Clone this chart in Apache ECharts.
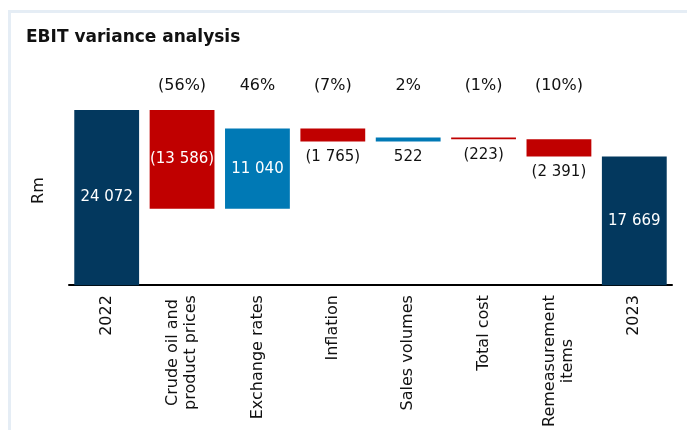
<!DOCTYPE html>
<html>
<head>
<meta charset="utf-8">
<script src="https://cdn.jsdelivr.net/npm/echarts@6/dist/echarts.min.js"></script>
<style>
  html, body { margin: 0; padding: 0; background: #fff; }
  #wrap { position: relative; width: 687px; height: 430px; overflow: hidden; }
  #panel { position: absolute; left: 8px; top: 10px; right: 0; bottom: 0;
           border-top: 3px solid #e5edf5; border-left: 3px solid #e5edf5; }
  #chart { position: absolute; left: 0; top: 0; width: 687px; height: 430px; }
</style>
</head>
<body>
<div id="wrap"><div id="panel"></div><div id="chart"></div></div>
<script>
const categories = ['2022', 'Crude oil and\nproduct prices', 'Exchange rates', 'Inflation',
                    'Sales volumes', 'Total cost', 'Remeasurement\nitems', '2023'];
const values = [24072, -13586, 11040, -1765, 522, -223, -2391, 17669];
const isTotal = [true, false, false, false, false, false, false, true];
const pctLabels = ['', '(56%)', '46%', '(7%)', '2%', '(1%)', '(10%)', ''];

const NAVY = '#03385e', RED = '#c00000', BLUE = '#0079b5';
const FONT = 'DejaVu Sans';

function fmt(v) {
  const s = Math.abs(v).toString().replace(/\B(?=(\d{3})+(?!\d))/g, ' ');
  return v < 0 ? '(' + s + ')' : s;
}

// running sums for waterfall
const baseData = [], barData = [];
let running = 0;
values.forEach((v, i) => {
  let base, h;
  if (isTotal[i]) { base = 0; h = v; running = v; }
  else if (v >= 0) { base = running; h = v; running += v; }
  else { running += v; base = running; h = -v; }
  baseData.push(base);
  const inside = Math.abs(v) > 5000;
  barData.push({
    value: h,
    itemStyle: { color: isTotal[i] ? NAVY : (v >= 0 ? BLUE : RED) },
    label: {
      show: true,
      position: inside ? 'inside' : 'bottom',
      distance: 8,
      color: inside ? '#fff' : '#111',
      formatter: fmt(v)
    }
  });
});

const chart = echarts.init(document.getElementById('chart'), null, { renderer: 'canvas' });
chart.setOption({
  backgroundColor: 'transparent',
  animation: false,
  title: {
    text: 'EBIT variance analysis',
    left: 21, top: 24,
    textStyle: { fontFamily: FONT, fontSize: 17, fontWeight: 'bold', color: '#111' }
  },
  grid: { left: 69, right: 15, top: 96, bottom: 144 },
  xAxis: [{
    type: 'category',
    data: categories,
    axisLine: { lineStyle: { color: '#000', width: 2 } },
    axisTick: { show: false },
    axisLabel: {
      rotate: 90, margin: 10, color: '#111', interval: 0,
      fontFamily: FONT, fontSize: 16, lineHeight: 18,
      formatter: function (v) {
        return v.split('\n').map(l => '{c|' + l + '}').join('\n');
      },
      rich: { c: { align: 'center', fontFamily: FONT, fontSize: 16, lineHeight: 18, color: '#111' } }
    }
  }, {
    type: 'category',
    position: 'top',
    data: pctLabels,
    axisLine: { show: false },
    axisTick: { show: false },
    axisLabel: { margin: 2, color: '#111', interval: 0, fontFamily: FONT, fontSize: 16 }
  }],
  yAxis: {
    type: 'value', min: 0, max: 26000,
    name: 'Rm', nameLocation: 'middle', nameGap: 22, nameRotate: 90,
    nameTextStyle: { fontFamily: FONT, fontSize: 16, color: '#111' },
    axisLine: { show: false }, axisTick: { show: false },
    axisLabel: { show: false }, splitLine: { show: false }
  },
  series: [{
    type: 'bar', stack: 'w', silent: true,
    itemStyle: { color: 'transparent' },
    barCategoryGap: '14%',
    data: baseData
  }, {
    type: 'bar', stack: 'w',
    barCategoryGap: '14%',
    label: { fontFamily: FONT, fontSize: 15 },
    data: barData
  }]
});
</script>
</body>
</html>
